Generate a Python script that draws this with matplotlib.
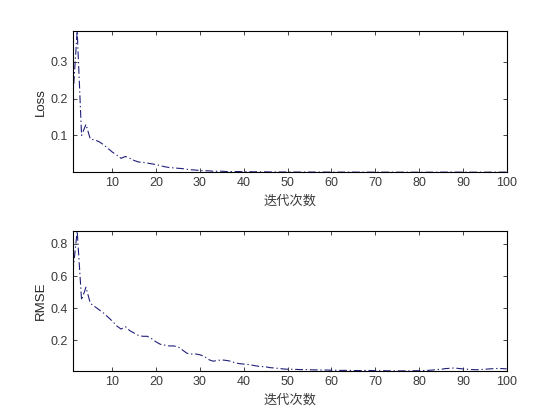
import numpy as np
import matplotlib
matplotlib.use("Agg")
import matplotlib.pyplot as plt

plt.rcParams['font.family'] = ['Liberation Sans', 'Noto Sans CJK SC', 'DejaVu Sans']

# iteration index 1..100
iters = np.arange(1, 101)

loss = [0.20, 0.383, 0.100, 0.130, 0.090, 0.088, 0.083, 0.075, 0.065, 0.055,
        0.047, 0.038, 0.043, 0.038, 0.032, 0.028, 0.027, 0.025, 0.023, 0.021,
        0.018, 0.015, 0.013, 0.012, 0.011, 0.010, 0.008, 0.007, 0.006, 0.005,
        0.004, 0.004, 0.003, 0.003, 0.003, 0.002, 0.002, 0.002, 0.002, 0.0015,
        0.0015, 0.0014, 0.0013, 0.0012, 0.0011, 0.0010, 0.0010, 0.0009, 0.0009, 0.0008,
        0.0008, 0.0008, 0.0007, 0.0007, 0.0007, 0.0006, 0.0006, 0.0006, 0.0006, 0.0005,
        0.0005, 0.0005, 0.0005, 0.0005, 0.0005, 0.0004, 0.0004, 0.0004, 0.0004, 0.0004,
        0.0004, 0.0004, 0.0004, 0.0004, 0.0003, 0.0003, 0.0003, 0.0003, 0.0003, 0.0003,
        0.0003, 0.0003, 0.0003, 0.0003, 0.0004, 0.0005, 0.0006, 0.0006, 0.0005, 0.0004,
        0.0004, 0.0003, 0.0003, 0.0003, 0.0003, 0.0004, 0.0004, 0.0004, 0.0005, 0.0004]

rmse = [0.62, 0.88, 0.45, 0.53, 0.43, 0.41, 0.39, 0.37, 0.345, 0.32,
        0.29, 0.27, 0.285, 0.26, 0.245, 0.23, 0.225, 0.225, 0.21, 0.19,
        0.175, 0.17, 0.165, 0.165, 0.16, 0.14, 0.12, 0.115, 0.115, 0.11,
        0.10, 0.08, 0.07, 0.075, 0.078, 0.075, 0.07, 0.06, 0.055, 0.052,
        0.05, 0.045, 0.04, 0.037, 0.035, 0.03, 0.028, 0.025, 0.022, 0.02,
        0.02, 0.019, 0.018, 0.018, 0.017, 0.016, 0.016, 0.015, 0.015, 0.014,
        0.014, 0.013, 0.013, 0.013, 0.012, 0.012, 0.012, 0.013, 0.012, 0.011,
        0.011, 0.011, 0.010, 0.010, 0.010, 0.010, 0.010, 0.010, 0.011, 0.011,
        0.012, 0.013, 0.015, 0.018, 0.020, 0.024, 0.026, 0.028, 0.025, 0.022,
        0.020, 0.018, 0.017, 0.018, 0.020, 0.022, 0.024, 0.025, 0.024, 0.022]

xticks = [10, 20, 30, 40, 50, 60, 70, 80, 90, 100]
xlabel = "迭代次数"

fig = plt.figure(figsize=(5.6, 4.2), dpi=100)
ax1 = fig.add_axes([0.130, 0.590, 0.775, 0.336])
ax2 = fig.add_axes([0.130, 0.117, 0.775, 0.333])

panels = [(ax1, loss, "Loss", [0.1, 0.2, 0.3]),
          (ax2, rmse, "RMSE", [0.2, 0.4, 0.6, 0.8])]

for ax, vals, name, yt in panels:
    ax.plot(iters, vals, linestyle='-.', dashes=(7, 2.5, 1.2, 2.5),
            color='#20207a', linewidth=0.8)
    ax.set_xlim(1, 100)
    ax.set_ylim(min(vals), max(vals))
    ax.set_xticks(xticks)
    ax.set_yticks(yt)
    ax.tick_params(direction='in', top=True, right=True, length=3,
                   labelsize=9, labelcolor='#3a3a3a', color='#262626', width=0.6)
    for s in ax.spines.values():
        s.set_linewidth(0.8)
    ax.set_ylabel(name, fontsize=9.5, color='#262626', labelpad=3)
    ax.set_xlabel(xlabel, fontsize=9.5, color='#3a3a3a',
                  family=['Noto Sans CJK SC', 'DejaVu Sans'])

fig.savefig("out.png", dpi=100, facecolor='white')
